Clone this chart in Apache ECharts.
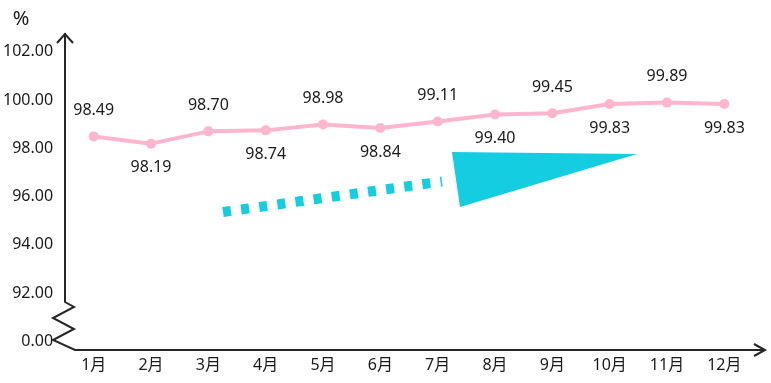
<!DOCTYPE html>
<html>
<head>
<meta charset="utf-8">
<script src="https://cdn.jsdelivr.net/npm/echarts@6/dist/echarts.min.js"></script>
<style>
html,body{margin:0;padding:0;background:#fff;}
#main{width:771px;height:383px;}
</style>
</head>
<body>
<div id="main"></div>
<script>
var categories = ['1月','2月','3月','4月','5月','6月','7月','8月','9月','10月','11月','12月'];
var values = [98.49, 98.19, 98.70, 98.74, 98.98, 98.84, 99.11, 99.40, 99.45, 99.83, 99.89, 99.83];
var yTickValues = [90, 92, 94, 96, 98, 100, 102];
var yTickLabels = ['0.00', '92.00', '94.00', '96.00', '98.00', '100.00', '102.00'];

var FONT = '"Noto Sans", "Noto Sans CJK SC", sans-serif';
var TEXT = '#1a1a1a';
var AXIS = '#262626';
var PINK = '#FDB6CE';
var CYAN = '#14CDE0';

var chart = echarts.init(document.getElementById('main'));

var seriesData = values.map(function (v, i) {
  var top = i % 2 === 0;
  return {
    value: v,
    label: { position: top ? 'top' : 'bottom', distance: top ? 13 : 11 }
  };
});

chart.setOption({
  animation: false,
  grid: { left: 65, right: 18, top: 51.7, bottom: 41.7, containLabel: false },
  xAxis: {
    type: 'category',
    data: categories,
    boundaryGap: true,
    axisLine: { show: false },
    axisTick: { show: false },
    axisLabel: { margin: 16, fontSize: 16, color: TEXT, fontFamily: FONT },
    splitLine: { show: false }
  },
  yAxis: {
    type: 'value',
    min: 90,
    max: 102,
    interval: 2,
    axisLine: { show: false },
    axisTick: { show: false },
    splitLine: { show: false },
    axisLabel: {
      margin: 12, fontSize: 16, color: TEXT, fontFamily: FONT,
      formatter: function (v) {
        var idx = yTickValues.indexOf(v);
        return idx >= 0 ? yTickLabels[idx] : '';
      }
    }
  },
  series: [{
    type: 'line',
    data: seriesData,
    symbol: 'circle',
    symbolSize: 10,
    lineStyle: { color: PINK, width: 4 },
    itemStyle: { color: PINK },
    label: { show: true, fontSize: 16, color: TEXT, fontFamily: FONT,
      formatter: function (p) { return p.value.toFixed(2); } },
    z: 3
  }],
  graphic: [
    { type: 'polyline', silent: true,
      shape: { points: [[65,33],[65,302],[74,307],[53,318],[74,329],[53,340],[75,350],[765,350]] },
      style: { stroke: AXIS, lineWidth: 2, fill: null } },
    { type: 'polyline', silent: true,
      shape: { points: [[57,43],[65,34],[73,43]] },
      style: { stroke: AXIS, lineWidth: 2, fill: null } },
    { type: 'polyline', silent: true,
      shape: { points: [[754,344],[765,350],[754,356]] },
      style: { stroke: AXIS, lineWidth: 2, fill: null } },
    { type: 'text', silent: true, x: 21, y: 19,
      style: { text: '%', fontSize: 20, fontFamily: FONT, fill: TEXT,
        align: 'center', verticalAlign: 'middle' } },
    { type: 'line', silent: true,
      shape: { x1: 223, y1: 212, x2: 442, y2: 181.5 },
      style: { stroke: CYAN, lineWidth: 10, lineDash: [8, 10.3], lineCap: 'butt' } },
    { type: 'polygon', silent: true,
      shape: { points: [[452,152],[637,154],[460,207]] },
      style: { fill: CYAN } }
  ]
});
</script>
</body>
</html>
